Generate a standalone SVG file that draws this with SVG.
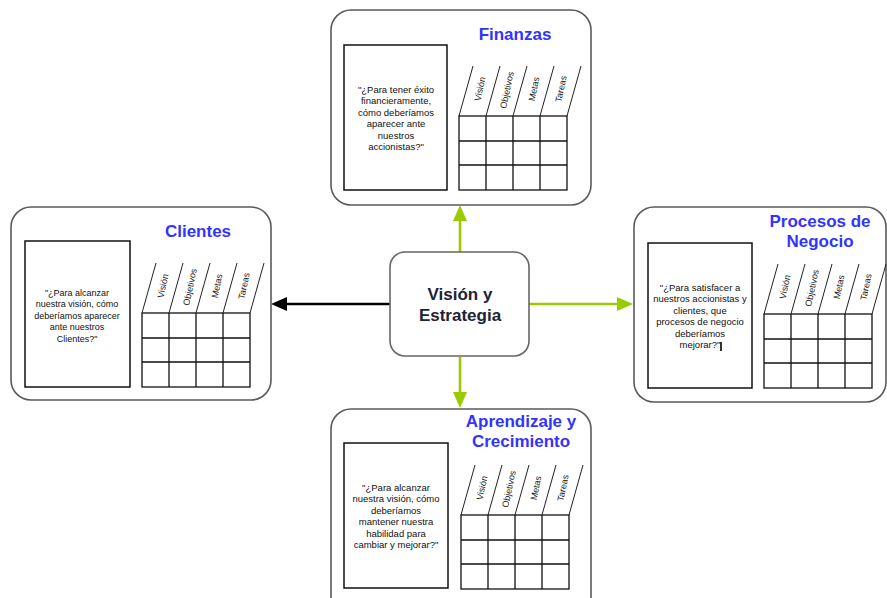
<svg xmlns="http://www.w3.org/2000/svg" width="887" height="598" viewBox="0 0 887 598">
<style>
.panel{fill:#fff;stroke:#5a5a5a;stroke-width:1.6}
.qbox{fill:#fff;stroke:#111;stroke-width:1.5}
.grid{fill:none;stroke:#111;stroke-width:1.3}
.slant{stroke:#222;stroke-width:1}
.title{font-family:"Liberation Sans",Arial,sans-serif;font-weight:bold;font-size:17px;fill:#3333ff;text-anchor:middle}
.q{font-family:"Liberation Sans",Arial,sans-serif;font-size:9.5px;fill:#111;text-anchor:middle}
.hdr{font-family:"Liberation Sans",Arial,sans-serif;font-size:9px;fill:#222;text-anchor:middle;dominant-baseline:central}
.center{font-family:"Liberation Sans",Arial,sans-serif;font-weight:bold;font-size:17px;fill:#222233;text-anchor:middle}
</style>
<defs>
<marker id="ag" markerUnits="userSpaceOnUse" markerWidth="16" markerHeight="14" refX="6" refY="7" orient="auto"><path d="M0,0 L16,7 L0,14 z" fill="#99cc00"/></marker>
<marker id="ab" markerUnits="userSpaceOnUse" markerWidth="16" markerHeight="14" refX="6" refY="7" orient="auto"><path d="M0,0 L16,7 L0,14 z" fill="#000"/></marker>
<g id="table">
<rect class="grid" x="0" y="0" width="108" height="74"/>
<path class="grid" d="M27,0V74M54,0V74M81,0V74M0,25H108M0,49H108"/>
<path class="slant" d="M0,0L14,-50M27,0L41,-50M54,0L68,-50M81,0L95,-50M108,0L122,-50"/>
<text class="hdr" transform="translate(21,-27) rotate(-78)">Visión</text>
<text class="hdr" transform="translate(48,-26) rotate(-78)">Objetivos</text>
<text class="hdr" transform="translate(75,-27) rotate(-78)">Metas</text>
<text class="hdr" transform="translate(102,-27) rotate(-78)">Tareas</text>
</g>
</defs>

<g id="connectors">
<line x1="460" y1="252" x2="460" y2="215" stroke="#99cc00" stroke-width="2.6" marker-end="url(#ag)"/>
<line x1="460" y1="357" x2="460" y2="398" stroke="#99cc00" stroke-width="2.6" marker-end="url(#ag)"/>
<line x1="529" y1="304" x2="623" y2="304" stroke="#99cc00" stroke-width="2.6" marker-end="url(#ag)"/>
<line x1="390" y1="304" x2="281" y2="304" stroke="#000" stroke-width="2.4" marker-end="url(#ab)"/>
</g>

<g id="vision">
<rect x="390" y="252" width="139" height="104" rx="15" fill="#fff" stroke="#666" stroke-width="1.6"/>
<text class="center" x="460" y="300">Visión y</text>
<text class="center" x="460" y="321">Estrategia</text>
</g>

<g id="finanzas">
<rect class="panel" x="331" y="10" width="260" height="195" rx="20"/>
<text class="title" x="515" y="40">Finanzas</text>
<rect class="qbox" x="344" y="45" width="103" height="145"/>
<text class="q" x="396" y="92.5">"¿Para tener éxito</text>
<text class="q" x="396" y="104">financieramente,</text>
<text class="q" x="396" y="115.5">cómo deberíamos</text>
<text class="q" x="396" y="127">aparecer ante</text>
<text class="q" x="396" y="138.5">nuestros</text>
<text class="q" x="396" y="150">accionistas?"</text>
<use href="#table" x="459" y="116"/>
</g>

<g id="clientes">
<rect class="panel" x="11" y="207" width="260" height="193" rx="20"/>
<text class="title" x="198" y="237">Clientes</text>
<rect class="qbox" x="25" y="241" width="105" height="146"/>
<text class="q" x="77" y="295.5" style="font-size:9px">"¿Para alcanzar</text>
<text class="q" x="77" y="307" style="font-size:9px">nuestra visión, cómo</text>
<text class="q" x="77" y="318.5" style="font-size:9px">deberíamos aparecer</text>
<text class="q" x="77" y="330" style="font-size:9px">ante nuestros</text>
<text class="q" x="77" y="341.5" style="font-size:9px">Clientes?"</text>
<use href="#table" x="142" y="313"/>
</g>

<g id="procesos">
<rect class="panel" x="634" y="207" width="252" height="195" rx="20"/>
<text class="title" x="820" y="227">Procesos de</text>
<text class="title" x="820" y="247">Negocio</text>
<rect class="qbox" x="648" y="243" width="104" height="145"/>
<text class="q" x="700" y="290.5">"¿Para satisfacer a</text>
<text class="q" x="700" y="302">nuestros accionistas y</text>
<text class="q" x="700" y="313.5">clientes, que</text>
<text class="q" x="700" y="325">procesos de negocio</text>
<text class="q" x="700" y="336.5">deberíamos</text>
<text class="q" x="700" y="348">mejorar?"</text>
<line x1="721" y1="342" x2="721" y2="351" stroke="#000" stroke-width="1.6"/>
<use href="#table" x="764" y="314"/>
</g>

<g id="aprendizaje">
<rect class="panel" x="331" y="409" width="260" height="210" rx="20"/>
<text class="title" x="521" y="427">Aprendizaje y</text>
<text class="title" x="521" y="447">Crecimiento</text>
<rect class="qbox" x="344" y="443" width="104" height="145"/>
<text class="q" x="396" y="490.5">"¿Para alcanzar</text>
<text class="q" x="396" y="502">nuestra visión, cómo</text>
<text class="q" x="396" y="513.5">deberíamos</text>
<text class="q" x="396" y="525">mantener nuestra</text>
<text class="q" x="396" y="536.5">habilidad para</text>
<text class="q" x="396" y="548">cambiar y mejorar?"</text>
<use href="#table" x="461" y="515"/>
</g>
</svg>
